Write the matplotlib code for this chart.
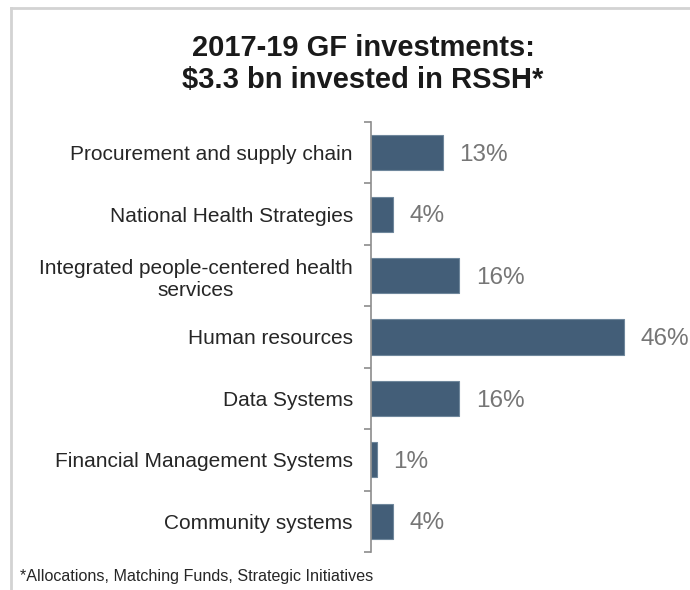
import matplotlib.pyplot as plt
from matplotlib.lines import Line2D
import numpy as np

categories = ["Procurement and supply chain", "National Health Strategies",
              "Integrated people-centered health\nservices", "Human resources",
              "Data Systems", "Financial Management Systems", "Community systems"]
values = [13, 4, 16, 46, 16, 1, 4]
value_labels = ["13%", "4%", "16%", "46%", "16%", "1%", "4%"]

plt.rcParams['font.family'] = ['Liberation Sans', 'DejaVu Sans']

fig = plt.figure(figsize=(6.9, 5.9), dpi=100)
ax = fig.add_axes([371/690, 1-552/590, 319/690, 430/590])

y = np.arange(len(categories))
ax.barh(y, values, height=0.57, color='#435E78', edgecolor='#6F879C', linewidth=0.8)
ax.set_ylim(len(categories)-0.5, -0.5)
ax.set_xlim(0, 319/5.5)

for yi, v, lab in zip(y, values, value_labels):
    ax.annotate(lab, (v, yi), xytext=(12, -1.5), textcoords='offset points',
                va='center', ha='left', fontsize=17.5, color='#767676')

ax.set_yticks(y)
ax.set_yticklabels(categories, fontsize=15, color='#262626', multialignment='center')
ax.tick_params(axis='y', which='major', length=0, pad=13)
ax.set_yticks(np.arange(len(categories)+1)-0.5, minor=True)
ax.tick_params(axis='y', which='minor', length=5, width=1.2, color='#8C8C8C')
ax.set_xticks([])
for s in ['top', 'right', 'bottom']:
    ax.spines[s].set_visible(False)
ax.spines['left'].set_color('#8C8C8C')
ax.spines['left'].set_linewidth(1.2)

fig.text(363/690, 1-64/590, "2017-19 GF investments:\n$3.3 bn invested in RSSH*",
         ha='center', va='center', fontsize=21, fontweight='bold', color='#1a1a1a',
         linespacing=1.22)
fig.text(20/690, 1-577/590, "*Allocations, Matching Funds, Strategic Initiatives",
         ha='left', va='center', fontsize=11.6, color='#262626')

fig.add_artist(Line2D([11/690, 1], [1-8/590, 1-8/590], color='#D3D3D3', lw=2))
fig.add_artist(Line2D([11/690, 11/690], [0, 1-8/590], color='#D3D3D3', lw=2))

fig.savefig('out.png', dpi=100)
